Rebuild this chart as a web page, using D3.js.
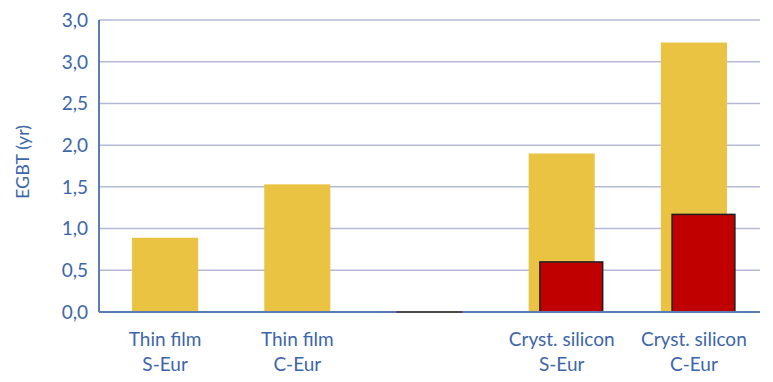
<!DOCTYPE html>
<html><head><meta charset="utf-8">
<script src="https://cdn.jsdelivr.net/npm/d3@7"></script>
<style>body{margin:0;background:#fff}svg{display:block}</style>
</head><body>
<svg id="c" width="773" height="382"></svg>
<script>
const categories = ["Thin film|S-Eur", "Thin film|C-Eur", "", "Cryst. silicon|S-Eur", "Cryst. silicon|C-Eur"];
const totalValues = [0.89, 1.53, 0, 1.90, 3.23];
const partValues = [null, null, null, 0.60, 1.17];
const tickValues = [0, 0.5, 1, 1.5, 2, 2.5, 3, 3.5];
const tickLabels = ["0,0", "0,5", "1,0", "1,5", "2,0", "2,5", "3,0", "3,0"];
const yTitle = "EGBT (yr)";

const svg = d3.select("#c");
const font = "Lato,'Open Sans',sans-serif";
const textCol = "#3d66aa";
const m = {l: 99, r: 13, t: 20, b: 70};
const W = 773, H = 382;
const x = d3.scaleBand().domain(d3.range(categories.length)).range([m.l, W - m.r]).paddingInner(0.5).paddingOuter(0.25);
const y = d3.scaleLinear().domain([0, 3.5]).range([H - m.b, m.t]);

// gridlines
svg.append("g").selectAll("line").data(tickValues.filter(v => v > 0)).join("line")
  .attr("x1", m.l).attr("x2", W - m.r)
  .attr("y1", d => y(d)).attr("y2", d => y(d))
  .attr("stroke", "#b4b9d6").attr("stroke-width", 1.5);

// yellow bars
const bw = x.bandwidth();
svg.append("g").selectAll("rect").data(totalValues.map((v, i) => ({v, i})).filter(d => d.v > 0)).join("rect")
  .attr("x", d => x(d.i)).attr("width", bw)
  .attr("y", d => y(d.v)).attr("height", d => y(0) - y(d.v))
  .attr("fill", "#ebc343");

// red bars
svg.append("g").selectAll("rect").data(partValues.map((v, i) => ({v, i})).filter(d => d.v != null)).join("rect")
  .attr("x", d => x(d.i) + bw * 0.17).attr("width", bw * 0.95)
  .attr("y", d => y(d.v)).attr("height", d => y(0) - y(d.v))
  .attr("fill", "#c00000").attr("stroke", "#1e1e1e").attr("stroke-width", 1.5);

// axes
svg.append("line").attr("x1", m.l).attr("x2", m.l).attr("y1", y(3.5)).attr("y2", y(0))
  .attr("stroke", "#5a7cb6").attr("stroke-width", 2);
svg.append("line").attr("x1", m.l).attr("x2", W - m.r).attr("y1", y(0)).attr("y2", y(0))
  .attr("stroke", "#5a7cb6").attr("stroke-width", 2);

// zero-value marker
svg.append("g").selectAll("line").data(totalValues.map((v, i) => ({v, i})).filter(d => d.v === 0)).join("line")
  .attr("x1", d => x(d.i)).attr("x2", d => x(d.i) + bw)
  .attr("y1", y(0)).attr("y2", y(0))
  .attr("stroke", "#4a4a4a").attr("stroke-width", 2);

// y tick labels
svg.append("g").selectAll("text").data(tickValues).join("text")
  .attr("x", 88).attr("y", d => y(d)).attr("dy", "0.36em")
  .attr("text-anchor", "end").attr("fill", textCol)
  .style("font-family", font).style("font-size", "19px")
  .text((d, i) => tickLabels[i]);

// y title
svg.append("text").attr("transform", `translate(29,162) rotate(-90)`)
  .attr("text-anchor", "middle").attr("fill", textCol)
  .style("font-family", font).style("font-size", "18px").text(yTitle);

// x labels
const xl = svg.append("g").selectAll("text").data(categories.map((c, i) => ({c, i}))).join("text")
  .attr("text-anchor", "middle").attr("fill", textCol)
  .style("font-family", font).style("font-size", "19px");
xl.each(function(d) {
  const parts = d.c ? d.c.split("|") : [];
  const t = d3.select(this);
  parts.forEach((p, k) => t.append("tspan").attr("x", x(d.i) + bw / 2).attr("y", 346 + k * 25).text(p));
});
</script>
</body></html>
